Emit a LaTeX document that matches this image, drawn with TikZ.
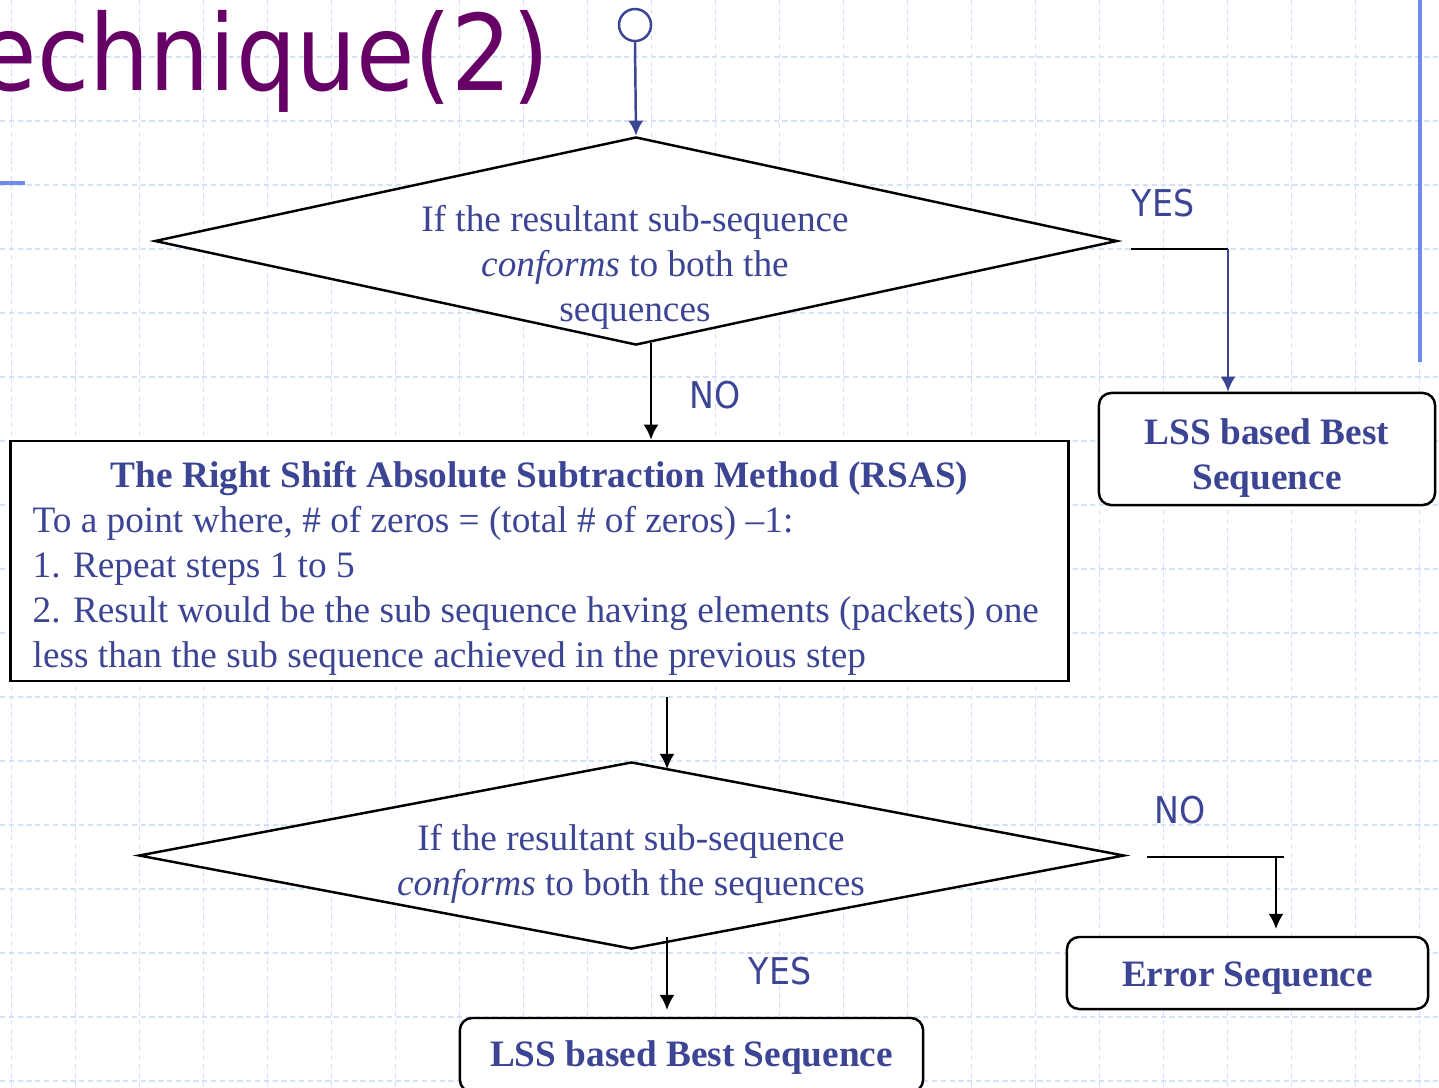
\documentclass[tikz,border=0pt]{standalone}
\usepackage{fontspec}
\setmainfont{Liberation Serif}
\newfontfamily\tahoma{DejaVu Sans Condensed}
\usetikzlibrary{shapes.geometric,arrows.meta}
\definecolor{txtblue}{RGB}{60,68,148}
\definecolor{ttlpurple}{RGB}{102,0,102}
\definecolor{rulblue}{RGB}{112,140,235}
\definecolor{gridblue}{RGB}{214,224,250}

\begin{document}
\begin{tikzpicture}[
    x=0.01cm, y=-0.01cm,
    font=\fontsize{10.6}{12.8}\selectfont, text=txtblue,
    gridln/.style={gridblue, line width=0.4pt, dash pattern=on 1.5pt off 1pt},
    dia/.style={diamond, draw=black, fill=white, line width=0.7pt, inner sep=0pt},
    rbox/.style={draw=black, fill=white, rounded corners=3.5pt, line width=0.7pt, inner sep=0pt},
    btxt/.style={align=center, font=\fontsize{10.6}{12.8}\selectfont\bfseries},
    fl/.style={-{Latex[length=4.3pt,width=4.3pt]}, line width=0.7pt},
    ln/.style={line width=0.7pt},
    yn/.style={font=\tahoma\fontsize{10.5}{12}\selectfont}
]
  \useasboundingbox (0,0) rectangle (1439,1087);

  % ================= background grid =================
  \foreach \gx in {0,...,22}
    \draw[gridln] (11.3+64*\gx,0) -- (11.3+64*\gx,1087);
  \foreach \gy in {0,...,17}
    \draw[gridln] (0,-7+64*\gy) -- (1439,-7+64*\gy);

  % ================= slide title =================
  \node[anchor=base west, inner sep=0pt, text=ttlpurple,
        font=\tahoma\fontsize{30}{30}\selectfont] (title) at (-22,90) {echnique(2)};
  \draw[rulblue, line width=1pt] (0,183) -- (25,183);
  \draw[rulblue, line width=1pt] (1420,0) -- (1420,362);

  % ================= first check =================
  \node[circle, draw=txtblue, line width=0.7pt, minimum size=0.32cm, inner sep=0pt] (start) at (635,25) {};
  \node[dia, minimum width=9.62cm, minimum height=2.08cm] (chk1) at (636,241) {};
  \node[align=center] (chk1txt) at (635,267)
    {If the resultant sub-sequence\\\textit{conforms} to both the\\sequences};
  \draw[fl, txtblue] (start.south) -- (chk1.north);

  \node[rbox, minimum width=3.36cm, minimum height=1.12cm] (lss1) at (1267,449) {};
  \node[btxt] (lss1txt) at (1267,458) {LSS based Best\\Sequence};

  % ================= RSAS block =================
  \node[draw=black, fill=white, line width=0.7pt, inner sep=0pt,
        minimum width=10.57cm, minimum height=2.40cm] (rsas) at (539.5,561) {};
  \node[align=left, inner sep=0pt] (rsastxt) at (539.5,568)
    {\makebox[10.13cm]{\textbf{The Right Shift Absolute Subtraction Method (RSAS)}}\\
     To a point where, \# of zeros = (total \# of zeros) –1:\\
     1. Repeat steps 1 to 5\\
     2. Result would be the sub sequence having elements (packets) one\\
     less than the sub sequence achieved in the previous step};

  % ================= second check =================
  \node[dia, minimum width=9.85cm, minimum height=1.87cm] (chk2) at (631.5,855.5) {};
  \node[align=center] (chk2txt) at (631,864)
    {If the resultant sub-sequence\\\textit{conforms} to both the sequences};

  \node[rbox, minimum width=3.61cm, minimum height=0.72cm] (err) at (1247.5,973) {};
  \node[btxt] (errtxt) at (1247.5,978) {Error Sequence};
  \node[rbox, minimum width=4.63cm, minimum height=0.74cm] (lss2) at (691.5,1055) {};
  \node[btxt] (lss2txt) at (691.5,1058) {LSS based Best Sequence};

  % ================= connectors =================
  % first check -> RSAS (NO)
  \coordinate (no1) at (651,343);
  \draw[fl] (no1) -- (no1 |- rsas.north);
  \node[yn] (no1lbl) at (715,395) {NO};

  % first check -> LSS (YES)
  \coordinate (yes1) at (1131,249);
  \coordinate (yes1turn) at (1228,249);
  \draw[ln] (yes1) -- (yes1turn);
  \draw[fl, txtblue] (yes1turn) -- (yes1turn |- lss1.north);
  \node[yn] (yes1lbl) at (1163,203) {YES};

  % RSAS -> second check
  \coordinate (rsasout) at (667,697);
  \coordinate (chk2in) at (667,769);
  \draw[fl] (rsasout) -- (chk2in);

  % second check -> LSS (YES)
  \coordinate (yes2) at (667,937);
  \coordinate (yes2end) at (667,1010);
  \draw[fl] (yes2) -- (yes2end);
  \node[yn] (yes2lbl) at (780,971) {YES};

  % second check -> error (NO)
  \coordinate (no2) at (1147,857);
  \coordinate (no2stub) at (1284,857);
  \coordinate (no2turn) at (1276,857);
  \coordinate (no2end) at (1276,929);
  \draw[ln] (no2) -- (no2stub);
  \draw[fl] (no2turn) -- (no2end);
  \node[yn] (no2lbl) at (1180,810) {NO};

\end{tikzpicture}
\end{document}
